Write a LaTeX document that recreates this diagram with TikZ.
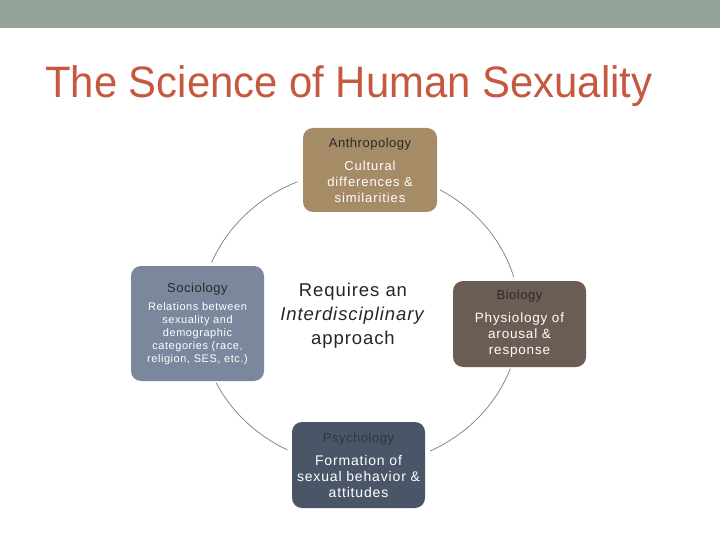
\documentclass[tikz,border=0pt]{standalone}
\usepackage{fontspec}
\setmainfont{Liberation Sans}
\usetikzlibrary{calc}
\definecolor{barcolor}{HTML}{94A298}
\definecolor{titlered}{HTML}{C5583F}
\definecolor{anthrofill}{HTML}{A68B67}
\definecolor{sociofill}{HTML}{7B879D}
\definecolor{biofill}{HTML}{6B5C54}
\definecolor{psychfill}{HTML}{4A5667}
\definecolor{darktext}{HTML}{2A2A2A}
\definecolor{psychtitle}{HTML}{2E3440}
\definecolor{arcgray}{HTML}{808080}
\newcommand{\boxtitle}[1]{{\fontsize{13}{16}\selectfont\addfontfeatures{LetterSpace=4}#1}}
\begin{document}
\begin{tikzpicture}[x=1pt,y=-1pt,
  box/.style={rounded corners=10pt, minimum width=133pt, align=center, inner sep=0pt, text=white},
  arcline/.style={draw=arcgray, line width=0.75pt}]
\useasboundingbox (0,0) rectangle (720,540);
\fill[barcolor] (0,0) rectangle (720,28);
\node[anchor=base west, text=titlered, font=\fontsize{44}{50}\selectfont, inner sep=0pt] (title) at (45,98) {\scalebox{0.951}[1]{The Science of Human Sexuality}};

\coordinate (c) at (360,318);
\draw[arcline] ($(c)+(-16:160 and 148)$) arc[start angle=-16, end angle=-60, x radius=160, y radius=148];
\draw[arcline] ($(c)+(-113:160 and 148)$) arc[start angle=-113, end angle=-158, x radius=160, y radius=148];
\draw[arcline] ($(c)+(154:160 and 148)$) arc[start angle=154, end angle=117, x radius=160, y radius=148];
\draw[arcline] ($(c)+(64:160 and 148)$) arc[start angle=64, end angle=20, x radius=160, y radius=148];

\node[box, fill=anthrofill, minimum width=134pt, minimum height=84pt, text width=130pt,
  font=\fontsize{13}{16}\selectfont\addfontfeatures{LetterSpace=7}] (anthro) at (370,170)
  {\textcolor{darktext}{\boxtitle{Anthropology}}\\[7pt]Cultural\\differences \&\\similarities};

\node[box, fill=sociofill, minimum height=115pt, text width=130pt,
  font=\fontsize{11}{12.8}\selectfont\addfontfeatures{LetterSpace=5}] (socio) at (197.5,323.5)
  {\textcolor{darktext}{\boxtitle{Sociology}}\\[6pt]Relations between\\sexuality and\\demographic\\categories (race,\\religion, SES, etc.)};

\node[box, fill=biofill, minimum height=86pt, text width=130pt,
  font=\fontsize{13.5}{16}\selectfont\addfontfeatures{LetterSpace=6}] (bio) at (519.5,324)
  {\textcolor{darktext}{\boxtitle{Biology}}\\[7pt]Physiology of\\arousal \&\\response};

\node[box, fill=psychfill, minimum height=86pt, text width=130pt,
  font=\fontsize{14}{16}\selectfont\addfontfeatures{LetterSpace=6}] (psych) at (358.5,465)
  {\textcolor{psychtitle}{\boxtitle{Psychology}}\\[7pt]Formation of\\sexual behavior \&\\attitudes};

\node[align=center, text=black!85, inner sep=0pt,
  font=\fontsize{18.5}{24}\selectfont\addfontfeatures{LetterSpace=5}] (center) at (353,316)
  {Requires an\\\textit{Interdisciplinary}\\approach};
\end{tikzpicture}
\end{document}
